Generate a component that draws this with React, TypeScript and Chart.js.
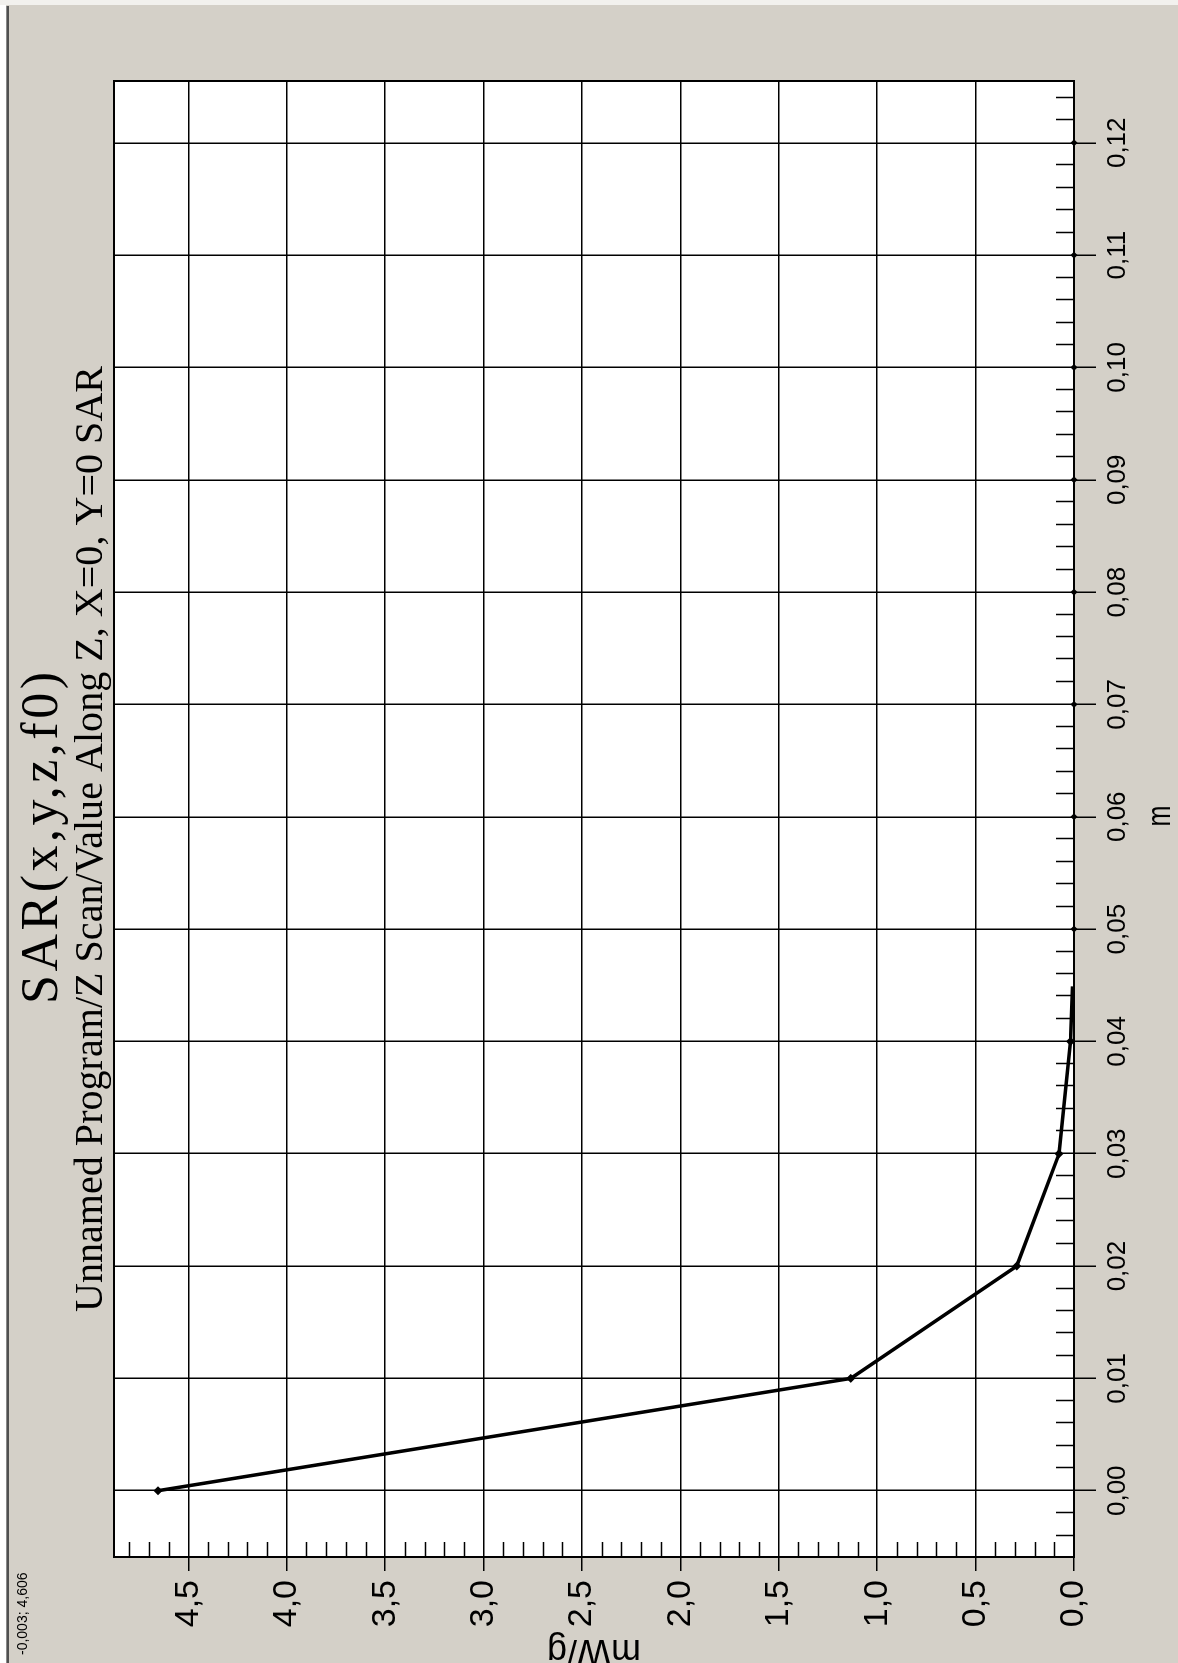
import React, { useEffect, useRef } from "react";
import { Chart, registerables } from "chart.js";

Chart.register(...registerables);

// Z scan samples (distance in m, SAR in mW/g)
const scanDistances = [0.0, 0.01, 0.02, 0.03, 0.04, 0.0449];
const scanSar = [4.655, 1.134, 0.291, 0.076, 0.018, 0.008];
const scanMarkerSizes = [4.5, 4.5, 4.5, 4.5, 4.5, 0];
const tailDistances = [0.05, 0.06, 0.07, 0.08, 0.09, 0.1, 0.11, 0.12];
const tailSar = [0, 0, 0, 0, 0, 0, 0, 0];

// Axes
const xTickValues = [0, 0.01, 0.02, 0.03, 0.04, 0.05, 0.06, 0.07, 0.08, 0.09, 0.1, 0.11, 0.12];
const yTickValues = [0, 0.5, 1.0, 1.5, 2.0, 2.5, 3.0, 3.5, 4.0, 4.5];
const xMin = -0.0059;
const xMax = 0.1255;
const yMin = 0;
const yMax = 4.878;
const xMinorStep = 0.002;
const yMinorStep = 0.1;

// Texts
const chartTitle = "SAR(x,y,z,f0)";
const chartSubtitle = "Unnamed Program/Z Scan/Value Along Z, X=0, Y=0 SAR";
const xAxisTitle = "m";
const yAxisTitle = "mW/g";
const cursorReadout = "-0,003; 4,606";

// Canvas is drawn landscape and turned a quarter turn on the page
const W = 1663;
const H = 1178;
const AREA = { left: 106, right: 1582, top: 114, bottom: 1074 };

const fmt = (v: number, d: number) => v.toFixed(d).replace(".", ",");

function drawSpaced(ctx: CanvasRenderingContext2D, text: string, cx: number, y: number, target: number) {
  (ctx as any).letterSpacing = "0px";
  const w = ctx.measureText(text).width;
  const gap = (target - w) / Math.max(1, text.length - 1);
  (ctx as any).letterSpacing = `${gap}px`;
  ctx.textAlign = "left";
  ctx.fillText(text, cx - target / 2, y);
  (ctx as any).letterSpacing = "0px";
}

const framePlugin = {
  id: "frame",
  beforeDraw(chart: any) {
    const ctx = chart.ctx as CanvasRenderingContext2D;
    const a = chart.chartArea;
    ctx.save();
    ctx.fillStyle = "#D4D0C8";
    ctx.fillRect(0, 0, W, H);
    ctx.fillStyle = "#FFFFFF";
    ctx.fillRect(0, 0, W, 6);
    ctx.fillStyle = "#F2F1EE";
    ctx.fillRect(W - 5, 0, 5, H);
    ctx.fillStyle = "#8A8A8A";
    ctx.fillRect(0, 6, W - 6, 1);
    ctx.fillStyle = "#505050";
    ctx.fillRect(0, 7, W - 6, 2);
    ctx.fillStyle = "#FFFFFF";
    ctx.fillRect(a.left, a.top, a.right - a.left, a.bottom - a.top);
    ctx.restore();
  },
  beforeDatasetsDraw(chart: any) {
    const ctx = chart.ctx as CanvasRenderingContext2D;
    const a = chart.chartArea;
    const xs = chart.scales.x;
    const ys = chart.scales.y;
    ctx.save();
    ctx.strokeStyle = "#000";
    ctx.lineWidth = 1.5;
    ctx.beginPath();
    for (let i = Math.ceil(xMin / xMinorStep); i * xMinorStep <= xMax; i++) {
      if (i % 5 === 0) continue;
      const px = Math.round(xs.getPixelForValue(i * xMinorStep)) + 0.5;
      ctx.moveTo(px, a.bottom);
      ctx.lineTo(px, a.bottom - 18);
    }
    for (let i = Math.ceil(yMin / yMinorStep); i * yMinorStep <= yMax; i++) {
      if (i % 5 === 0) continue;
      const py = Math.round(ys.getPixelForValue(i * yMinorStep)) + 0.5;
      ctx.moveTo(a.left, py);
      ctx.lineTo(a.left + 15, py);
    }
    ctx.stroke();
    ctx.lineWidth = 2;
    ctx.strokeRect(a.left, a.top, a.right - a.left, a.bottom - a.top);
    ctx.restore();
  },
  afterDraw(chart: any) {
    const ctx = chart.ctx as CanvasRenderingContext2D;
    ctx.save();
    ctx.fillStyle = "#000";
    ctx.textBaseline = "alphabetic";

    ctx.font = "52px 'Liberation Serif'";
    drawSpaced(ctx, chartTitle, 825, 57, 332);

    ctx.font = "40px 'Liberation Serif'";
    drawSpaced(ctx, chartSubtitle, 824, 102, 946);

    // x axis title
    ctx.save();
    ctx.font = "34px 'Liberation Sans'";
    ctx.translate(847, 1170);
    ctx.scale(0.74, 1);
    ctx.textAlign = "center";
    ctx.fillText(xAxisTitle, 0, 0);
    ctx.restore();

    // y axis title
    ctx.save();
    ctx.font = "36px 'Liberation Sans'";
    ctx.translate(23, (AREA.top + AREA.bottom) / 2);
    ctx.rotate(-Math.PI / 2);
    ctx.textAlign = "center";
    ctx.fillText(yAxisTitle, 0, 0);
    ctx.restore();

    ctx.font = "14px 'Liberation Sans'";
    ctx.textAlign = "left";
    ctx.fillText(cursorReadout, 8, 27);
    ctx.restore();
  },
};

export default function App() {
  const canvasRef = useRef<HTMLCanvasElement | null>(null);

  useEffect(() => {
    const canvas = canvasRef.current;
    if (!canvas) return;
    const chart = new Chart(canvas, {
      type: "scatter",
      data: {
        datasets: [
          {
            data: scanDistances.map((x, i) => ({ x, y: scanSar[i] })),
            showLine: true,
            borderColor: "#000",
            borderWidth: 3.5,
            pointStyle: "rectRot",
            pointRadius: scanMarkerSizes,
            pointBackgroundColor: "#000",
            pointBorderColor: "#000",
            pointBorderWidth: 0,
            clip: false,
          },
          {
            data: tailDistances.map((x, i) => ({ x, y: tailSar[i] })),
            showLine: false,
            pointStyle: "rectRot",
            pointRadius: 3.5,
            pointBackgroundColor: "#000",
            pointBorderColor: "#000",
            pointBorderWidth: 0,
            clip: false,
          },
        ],
      },
      options: {
        responsive: false,
        animation: false,
        devicePixelRatio: 1,
        layout: { padding: { top: AREA.top, right: W - AREA.right, left: 0, bottom: 0 } },
        plugins: {
          legend: { display: false },
          tooltip: { enabled: false },
          title: { display: false },
        },
        scales: {
          x: {
            type: "linear",
            position: "bottom",
            min: xMin,
            max: xMax,
            afterBuildTicks: (s: any) => {
              s.ticks = xTickValues.map((v) => ({ value: v }));
            },
            afterFit: (s: any) => {
              s.height = H - AREA.bottom;
            },
            grid: { color: "#000", lineWidth: 1.5, tickLength: 22, drawTicks: true },
            border: { display: true, color: "#000", width: 2 },
            ticks: {
              color: "#000",
              padding: 6,
              maxRotation: 0,
              autoSkip: false,
              font: { family: "'Liberation Sans'", size: 26 },
              callback: (v: any) => fmt(Number(v), 2),
            },
          },
          y: {
            type: "linear",
            min: yMin,
            max: yMax,
            afterBuildTicks: (s: any) => {
              s.ticks = yTickValues.map((v) => ({ value: v }));
            },
            afterFit: (s: any) => {
              s.width = AREA.left;
            },
            grid: { color: "#000", lineWidth: 1.5, tickLength: 14, drawTicks: true },
            border: { display: true, color: "#000", width: 2 },
            ticks: {
              color: "#000",
              padding: 9,
              autoSkip: false,
              font: { family: "'Liberation Sans'", size: 34 },
              callback: (v: any) => fmt(Number(v), 1),
            },
          },
        },
      },
      plugins: [framePlugin],
    } as any);
    return () => chart.destroy();
  }, []);

  return (
    <div style={{ position: "fixed", left: 0, top: 0, width: H, height: W, overflow: "hidden", background: "#D4D0C8" }}>
      <div
        style={{
          position: "absolute",
          left: 0,
          top: 0,
          width: W,
          height: H,
          transformOrigin: "top left",
          transform: `translateY(${W}px) rotate(-90deg)`,
        }}
      >
        <canvas ref={canvasRef} width={W} height={H} style={{ display: "block", width: W, height: H }} />
      </div>
    </div>
  );
}
